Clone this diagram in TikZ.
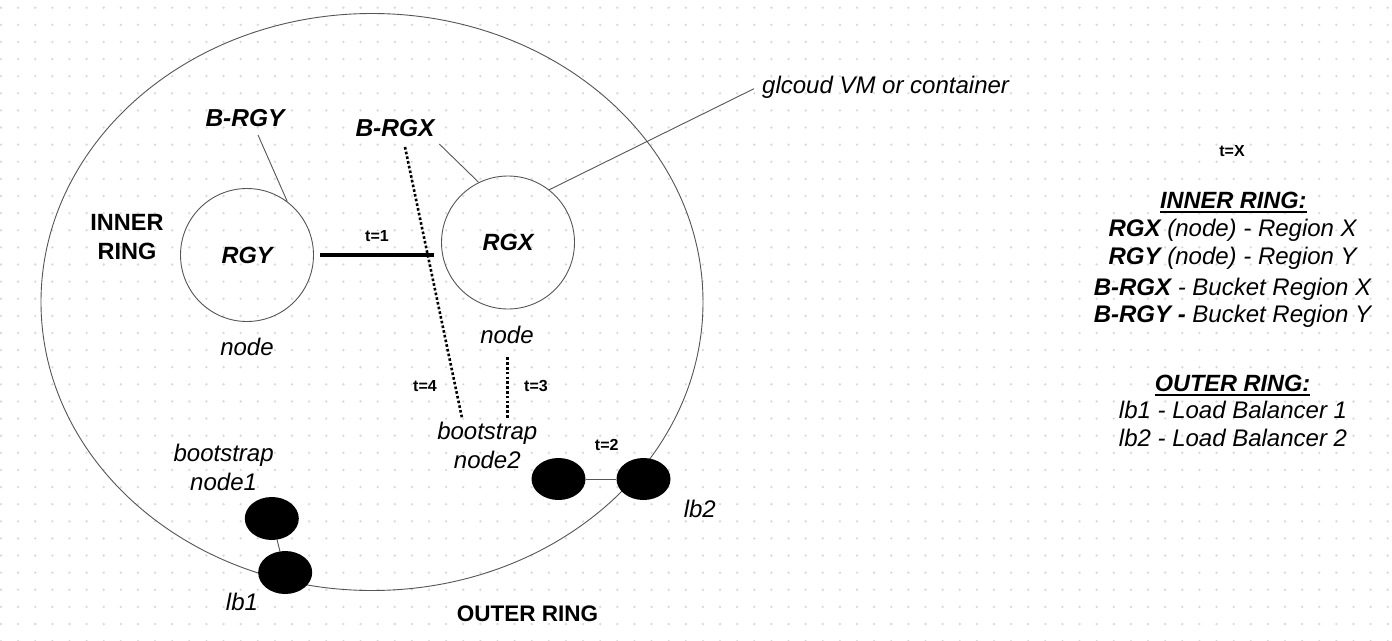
\documentclass[tikz,border=0pt]{standalone}
\usepackage{fontspec}
\setmainfont{Liberation Sans}
\usetikzlibrary{shapes.geometric}
\definecolor{dotc}{HTML}{D9D9D9}
\definecolor{linec}{HTML}{555555}
\newcommand{\myfs}[1]{\fontsize{#1}{#1}\selectfont}
\begin{document}
\begin{tikzpicture}[x=1pt,y=-1pt,
  it/.style={inner sep=0pt, anchor=base, font=\myfs{24}\itshape},
  bi/.style={inner sep=0pt, anchor=base, font=\myfs{24.5}\bfseries\itshape},
  bo/.style={inner sep=0pt, anchor=base, font=\myfs{23.5}\bfseries},
  sm/.style={inner sep=0pt, anchor=base, font=\myfs{16}\bfseries},
  circ/.style={circle, draw=linec, line width=0.9pt, minimum size=133pt, inner sep=0pt, font=\myfs{23.5}\bfseries\itshape},
  blob/.style={ellipse, fill=black, inner sep=0pt},
  thinl/.style={draw=linec, line width=0.9pt},
  dotl/.style={line width=2.6pt, dash pattern=on 2.6pt off 2.2pt},
  uline/.style={line width=1.8pt}]
\useasboundingbox (0,0) rectangle (1392,640);
\fill[white] (0,0) rectangle (1392,640);
\foreach \i in {0,...,81}{\foreach \j in {0,...,37}{\fill[dotc] ({1+17.12*\i},{7.7+17.12*\j}) circle (1.3pt);}}
% outer ring
\node[ellipse, draw=linec, line width=0.9pt, minimum width=662pt, minimum height=577pt, inner sep=0pt] (outer) at (372,302) {};
% inner nodes
\node[circ] (rgy) at (247,255) {RGY};
\node[circ] (rgx) at (508,242.5) {RGX};
% labels
\node[bi] (brgy) at (245,126.7) {B-RGY};
\node[bi] (brgx) at (395,136.7) {B-RGX};
\node[it] (nodeY) at (247,355) {node};
\node[it] (nodeX) at (507,343.3) {node};
\node[bo] (inner1) at (127,230) {INNER};
\node[bo] (inner2) at (127,259.3) {RING};
\node[sm] (t1) at (377,241.7) {t=1};
\node[sm] (t4) at (425,391.7) {t=4};
\node[sm] (t3) at (536,391.7) {t=3};
\node[sm] (t2) at (606.7,450.7) {t=2};
\node[it] (boot2a) at (487.3,439.3) {bootstrap};
\node[it] (boot2b) at (487.3,468.3) {node2};
\node[it] (boot1a) at (223.6,461.7) {bootstrap};
\node[it] (boot1b) at (223.6,490) {node1};
\node[it] (lb1L) at (242,610) {lb1};
\node[it] (lb2L) at (699.8,517.7) {lb2};
\node[inner sep=0pt, anchor=base, font=\myfs{22.5}\bfseries] (outerL) at (527.4,621.7) {OUTER RING};
\node[it, anchor=base west] (gl) at (762,93.3) {glcoud VM or container};
% blobs
\node[blob, minimum width=54pt, minimum height=43pt] (bs1) at (271.8,518.5) {};
\node[blob, minimum width=54pt, minimum height=43pt] (lb1) at (285.2,572.5) {};
\node[blob, minimum width=54pt, minimum height=42pt] (bs2) at (558.5,479) {};
\node[blob, minimum width=54pt, minimum height=42pt] (lb2) at (643.5,479) {};
\draw[thinl] (bs1) -- (lb1);
\draw[thinl] (bs2) -- (lb2);
% connectors
\coordinate (brgyT) at (258,135);
\draw[thinl] (brgyT) -- (rgy.53.6);
\coordinate (brgxT) at (439.3,144);
\draw[thinl] (brgxT) -- (rgx.116.7);
\coordinate (glT) at (754,88.7);
\draw[thinl] (rgx.52) -- (glT);
\draw[line width=4.5pt, shorten <=6pt, shorten >=7pt] (rgy.east) -- (rgy.east -| rgx.west);
\coordinate (d4a) at (405,147);
\coordinate (d4b) at (462.3,419.3);
\draw[dotl] (d4a) -- (d4b);
\coordinate (d3a) at (507.3,357.3);
\coordinate (d3b) at (507.3,419.3);
\draw[dotl] (d3a) -- (d3b);
% legend
\node[sm] (tx) at (1232,156.7) {t=X};
\node[bi, font=\myfs{23.5}\bfseries\itshape] (lgIn) at (1233.3,208.3) {INNER RING:};
\draw[uline] ([yshift=-3.5pt]lgIn.base west) -- ([yshift=-3.5pt]lgIn.base east);
\node[it] (lg1) at (1232.7,236) {\textbf{RGX} (node) - Region X};
\node[it] (lg2) at (1232.7,264) {\textbf{RGY} (node) - Region Y};
\node[it] (lg3) at (1232.5,295) {\textbf{B-RGX} - Bucket Region X};
\node[it] (lg4) at (1232.5,322.7) {\textbf{B-RGY -} Bucket Region Y};
\node[bi, font=\myfs{23.5}\bfseries\itshape] (lgOut) at (1232.5,391.7) {OUTER RING:};
\draw[uline] ([yshift=-3.5pt]lgOut.base west) -- ([yshift=-3.5pt]lgOut.base east);
\node[it] (lg5) at (1233,418.3) {lb1 - Load Balancer 1};
\node[it] (lg6) at (1233,446.7) {lb2 - Load Balancer 2};
\end{tikzpicture}
\end{document}
